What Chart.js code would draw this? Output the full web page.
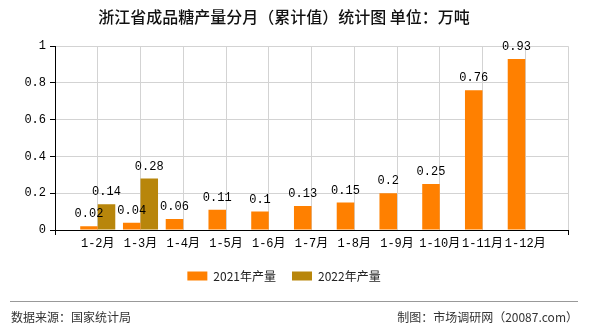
<!DOCTYPE html>
<html>
<head>
<meta charset="utf-8">
<script src="https://cdn.jsdelivr.net/npm/chart.js@4"></script>
<style>
  body { margin: 0; background: #fff; }
  #wrap { position: relative; width: 590px; height: 330px; }
  #grafico { position: absolute; left: 0; top: 0; }
  .rodape { position: absolute; top: 308px; font: 12px "Noto Sans CJK SC", sans-serif; color: #333; }
  #linha { position: absolute; left: 10px; top: 301px; width: 568px; height: 1px; background: #999; }
</style>
</head>
<body>
<div id="wrap">
  <canvas id="grafico" width="590" height="330"></canvas>
  <div id="linha"></div>
  <div class="rodape" style="left:11px">数据来源：国家统计局</div>
  <div class="rodape" style="right:12px">制图：市场调研网（20087.com）</div>
</div>
<script>
// Categorias e valores
const meses = ["1-2月", "1-3月", "1-4月", "1-5月", "1-6月", "1-7月", "1-8月", "1-9月", "1-10月", "1-11月", "1-12月"];
const producao2021 = [0.02, 0.04, 0.06, 0.11, 0.1, 0.13, 0.15, 0.2, 0.25, 0.76, 0.93];
const producao2022 = [0.14, 0.28, null, null, null, null, null, null, null, null, null];
const ticksY = [0, 0.2, 0.4, 0.6, 0.8, 1];

// Eixo com uma posição vazia em cada ponta
const rotulos = [""].concat(meses, [""]);
const comBordas = arr => [null].concat(arr, [null]);

// Plugin simples para escrever os valores acima das barras
const valoresNasBarras = {
    id: "valoresNasBarras",
    afterDatasetsDraw(chart) {
        const ctx = chart.ctx;
        ctx.save();
        ctx.font = "12px 'Liberation Mono', monospace";
        ctx.fillStyle = "#000";
        ctx.textAlign = "center";
        ctx.textBaseline = "middle";
        chart.data.datasets.forEach((ds, i) => {
            chart.getDatasetMeta(i).data.forEach((bar, j) => {
                const v = ds.data[j];
                if (v === null || v === undefined) return;
                ctx.fillText(String(v), bar.x, bar.y - 12);
            });
        });
        ctx.restore();
    }
};

const fonteMono = { family: "'Liberation Mono', 'Noto Sans CJK SC', monospace", size: 12 };

new Chart(document.getElementById("grafico"), {
    type: "bar",
    data: {
        labels: rotulos,
        datasets: [
            { label: "2021年产量", data: comBordas(producao2021), backgroundColor: "#ff8000" },
            { label: "2022年产量", data: comBordas(producao2022), backgroundColor: "#b8860b" }
        ]
    },
    options: {
        responsive: false,
        animation: false,
        datasets: { bar: { barPercentage: 1, categoryPercentage: 0.82 } },
        layout: { padding: { left: 0, right: 22, top: 0, bottom: 38 } },
        plugins: {
            title: {
                display: true,
                text: "浙江省成品糖产量分月（累计值）统计图 单位：万吨",
                color: "#111",
                font: { family: "'Noto Sans CJK SC', sans-serif", size: 16, weight: "500" },
                padding: { top: 7, bottom: 20 }
            },
            legend: {
                position: "bottom",
                labels: {
                    boxWidth: 20, boxHeight: 9, padding: 16, color: "#222",
                    font: { family: "'Noto Sans CJK SC', sans-serif", size: 12 }
                }
            },
            tooltip: { enabled: false }
        },
        scales: {
            x: {
                offset: false,
                grid: {
                    offset: false,
                    color: c => c.index === 0 ? "rgba(0,0,0,0)" : "#d3d3d3",
                    tickColor: c => (c.index === 0 || c.index === rotulos.length - 1) ? "#000" : "rgba(0,0,0,0)",
                    tickLength: 5
                },
                border: { color: "#000" },
                ticks: { color: "#000", font: fonteMono, maxRotation: 0, autoSkip: false, padding: 2 },
                afterFit: s => { s.height = 24; }
            },
            y: {
                min: 0, max: 1,
                afterBuildTicks: s => { s.ticks = ticksY.map(v => ({ value: v })); },
                grid: { color: "#d3d3d3", tickColor: "#000", tickLength: 5 },
                border: { color: "#000" },
                ticks: { color: "#000", font: fonteMono, padding: 4, callback: v => String(v) },
                afterFit: s => { s.width = 55; }
            }
        }
    },
    plugins: [valoresNasBarras]
});
</script>
</body>
</html>
